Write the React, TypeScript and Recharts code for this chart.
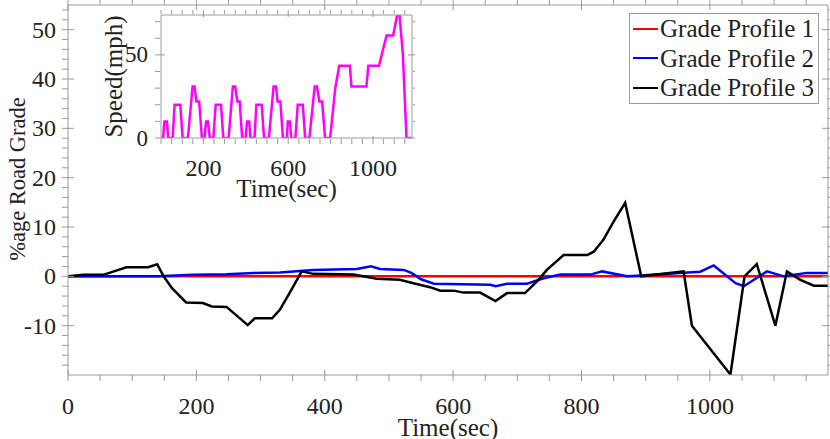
import { LineChart, Line, XAxis, YAxis, Legend, Label } from "recharts";

const AXIS = "#9a9a9a";
const INK = "#222222";
const FONT = "'Liberation Serif', 'Times New Roman', serif";

const X_MAX = 1184;
const MAIN_X_LABELS = [0, 200, 400, 600, 800, 1000];
const MAIN_Y_LABELS = [-10, 0, 10, 20, 30, 40, 50];
const INSET_X_LABELS = [200, 600, 1000];
const INSET_Y_LABELS = [0, 50];

const range = (a: number, b: number, s: number) => {
  const out: number[] = [];
  for (let v = a; v <= b; v += s) out.push(v);
  return out;
};
const MAIN_X_TICKS = range(0, 1150, 50);
const MAIN_Y_TICKS = range(-18, 54, 2);
const INSET_X_TICKS = range(0, 1150, 50);
const INSET_Y_TICKS = range(0, 70, 10);

// grade profiles (time in sec, %age grade)
const P1_T = [0, X_MAX];
const P1_G = [0, 0];

const P2_T = [0, 140, 195, 247, 290, 330, 351, 382, 450, 472, 486, 523, 535, 550, 570, 658, 666, 684, 715, 741, 767, 814, 832, 871, 886, 959, 985, 1006, 1040, 1053, 1089, 1115, 1151, 1184];
const P2_G = [0, 0, 0.3, 0.4, 0.7, 0.8, 1.0, 1.3, 1.5, 2.05, 1.5, 1.3, 0.7, -0.6, -1.5, -1.7, -2.0, -1.5, -1.5, -0.4, 0.35, 0.35, 1.0, 0, 0.1, 0.75, 0.95, 2.2, -1.4, -2.0, 1.0, 0, 0.7, 0.7];

const P3_T = [0, 24, 55, 91, 125, 139, 149, 162, 184, 210, 224, 247, 280, 291, 318, 330, 346, 364, 382, 445, 481, 517, 538, 564, 580, 601, 616, 642, 666, 684, 712, 731, 746, 772, 809, 819, 834, 850, 868, 893, 959, 972, 1032, 1054, 1073, 1102, 1120, 1141, 1162, 1184];
const P3_G = [0, 0.3, 0.3, 1.85, 1.85, 2.45, 0, -2.4, -5.3, -5.4, -6.1, -6.2, -9.9, -8.5, -8.5, -6.8, -3.2, 1.0, 0.5, 0.35, -0.5, -0.7, -1.4, -2.2, -2.9, -2.9, -3.3, -3.3, -5.0, -3.4, -3.4, -1.0, 1.3, 4.3, 4.3, 5.0, 7.4, 11.1, 14.9, 0, 1.0, -10, -19.9, 0, 2.5, -10, 1.0, -0.7, -1.9, -1.9];

// inset drive cycle speed (mph)
const SPD_T = [0, 10, 16, 28, 34, 55, 64, 91, 102, 127, 149, 158, 167, 180, 193, 205, 213, 222, 230, 247, 258, 283, 294, 319, 339, 350, 360, 371, 383, 399, 406, 416, 422, 441, 450, 475, 486, 509, 531, 542, 550, 563, 575, 594, 598, 608, 614, 634, 645, 669, 680, 700, 725, 736, 747, 760, 774, 798, 822, 841, 891, 898, 969, 978, 1028, 1064, 1095, 1114, 1125, 1141, 1158, 1184];
const SPD_V = [0, 0, 10, 10, 0, 0, 20, 20, 0, 0, 31, 31, 22, 22, 0, 0, 10, 10, 0, 0, 20, 20, 0, 0, 31, 31, 22, 22, 0, 0, 10, 10, 0, 0, 20, 20, 0, 0, 31, 31, 22, 22, 0, 0, 10, 10, 0, 0, 20, 20, 0, 0, 31, 31, 22, 22, 0, 0, 30, 43.5, 43.5, 31, 31, 43.5, 43.5, 61.6, 61.6, 74, 74, 50, 0, 0];

const zip = (ts: number[], vs: number[]) => ts.map((t, i) => ({ t, v: vs[i] }));
const p1 = zip(P1_T, P1_G);
const p2 = zip(P2_T, P2_G);
const p3 = zip(P3_T, P3_G);
const speed = zip(SPD_T, SPD_V);

type Side = "bottom" | "top" | "left" | "right";

// ticks point inward (MATLAB style); labels only on major ticks
const makeTick = (side: Side, labels: number[], major: number, minor: number, labelOff: number, fontSize: number) =>
  (props: any) => {
    const { x, y, payload } = props;
    const v = payload.value;
    const isMajor = labels.includes(v);
    const len = isMajor ? major : minor;
    const showLabel = isMajor && (side === "bottom" || side === "left");
    let line;
    if (side === "bottom") line = <line x1={x} x2={x} y1={y} y2={y - len} stroke={AXIS} />;
    else if (side === "top") line = <line x1={x} x2={x} y1={y} y2={y + len} stroke={AXIS} />;
    else if (side === "left") line = <line x1={x} x2={x + len} y1={y} y2={y} stroke={AXIS} />;
    else line = <line x1={x} x2={x - len} y1={y} y2={y} stroke={AXIS} />;
    return (
      <g>
        {line}
        {showLabel && side === "bottom" && (
          <text x={x} y={y + labelOff} textAnchor="middle" dominantBaseline="central" fontFamily={FONT} fontSize={fontSize} fill={INK}>
            {v}
          </text>
        )}
        {showLabel && side === "left" && (
          <text x={x - labelOff} y={y} textAnchor="end" dominantBaseline="central" fontFamily={FONT} fontSize={fontSize} fill={INK}>
            {v}
          </text>
        )}
      </g>
    );
  };

const xTitle = (text: string, off: number, size: number) => (props: any) => {
  const vb = props.viewBox;
  return (
    <text x={vb.x + vb.width / 2} y={vb.y + off} textAnchor="middle" dominantBaseline="central" fontFamily={FONT} fontSize={size} fill={INK}>
      {text}
    </text>
  );
};

const yTitle = (text: string, cx: number, dy: number, size: number) => (props: any) => {
  const vb = props.viewBox;
  const cy = vb.y + vb.height / 2 + dy;
  return (
    <text x={vb.x + cx} y={cy} transform={`rotate(-90 ${vb.x + cx} ${cy})`} textAnchor="middle" dominantBaseline="central" fontFamily={FONT} fontSize={size} fill={INK}>
      {text}
    </text>
  );
};

function LegendBox({ payload }: any) {
  return (
    <div style={{ border: `1px solid ${AXIS}`, background: "#fff", padding: "0 4px 0 3px", fontFamily: FONT, fontSize: 25, color: INK, whiteSpace: "nowrap" }}>
      {(payload || []).map((p: any) => (
        <div key={p.value} style={{ display: "flex", alignItems: "center", height: 29.5 }}>
          <span style={{ width: 25, height: 0, borderTop: `2.5px solid ${p.color}`, marginRight: 2 }} />
          <span style={{ lineHeight: "29px" }}>{p.value}</span>
        </div>
      ))}
    </div>
  );
}

export default function App() {
  return (
    <div style={{ position: "absolute", left: 0, top: 0, width: 830, height: 439, background: "#fff" }}>
      <LineChart width={830} height={439} margin={{ top: 0, right: 0, bottom: 0, left: 0 }}>
        <XAxis xAxisId="b" type="number" dataKey="t" domain={[0, X_MAX]} allowDataOverflow ticks={MAIN_X_TICKS} interval={0}
          tickLine={false} tickMargin={0} height={64} stroke={AXIS} tick={makeTick("bottom", MAIN_X_LABELS, 11, 6, 25, 24)}>
          <Label content={xTitle("Time(sec)", 52, 25)} />
        </XAxis>
        <XAxis xAxisId="t" orientation="top" type="number" dataKey="t" domain={[0, X_MAX]} allowDataOverflow ticks={MAIN_X_TICKS} interval={0}
          tickLine={false} tickMargin={0} height={5} stroke={AXIS} tick={makeTick("top", MAIN_X_LABELS, 11, 6, 0, 24)} />
        <YAxis yAxisId="l" type="number" domain={[-20, 55]} allowDataOverflow ticks={MAIN_Y_TICKS} interval={0}
          tickLine={false} tickMargin={0} width={68} stroke={AXIS} tick={makeTick("left", MAIN_Y_LABELS, 12, 6, 6, 24)}>
          <Label content={yTitle("%age Road Grade", 17, -11, 22.5)} />
        </YAxis>
        <YAxis yAxisId="r" orientation="right" type="number" domain={[-20, 55]} allowDataOverflow ticks={MAIN_Y_TICKS} interval={0}
          tickLine={false} tickMargin={0} width={2} stroke={AXIS} tick={makeTick("right", MAIN_Y_LABELS, 12, 6, 0, 24)} />
        <Line xAxisId="b" yAxisId="l" data={p1} dataKey="v" name="Grade Profile 1" stroke="#ff0000" strokeWidth={2.5} dot={false} type="linear" isAnimationActive={false} />
        <Line xAxisId="b" yAxisId="l" data={p2} dataKey="v" name="Grade Profile 2" stroke="#0000ff" strokeWidth={2.5} dot={false} type="linear" isAnimationActive={false} />
        <Line xAxisId="b" yAxisId="l" data={p3} dataKey="v" name="Grade Profile 3" stroke="#000000" strokeWidth={2.5} dot={false} type="linear" isAnimationActive={false} />
        <Legend layout="horizontal" verticalAlign="middle" align="center" content={LegendBox}
          wrapperStyle={{ top: 13, left: 629, width: "auto", height: "auto" }} />
      </LineChart>

      <div style={{ position: "absolute", left: 95, top: 10 }}>
        <LineChart width={320} height={200} margin={{ top: 0, right: 0, bottom: 0, left: 0 }}>
          <XAxis xAxisId="b" type="number" dataKey="t" domain={[0, X_MAX]} allowDataOverflow ticks={INSET_X_TICKS} interval={0}
            tickLine={false} tickMargin={0} height={72} stroke={AXIS} tick={makeTick("bottom", INSET_X_LABELS, 8, 5, 24, 24)}>
            <Label content={xTitle("Time(sec)", 50, 25)} />
          </XAxis>
          <XAxis xAxisId="t" orientation="top" type="number" dataKey="t" domain={[0, X_MAX]} allowDataOverflow ticks={INSET_X_TICKS} interval={0}
            tickLine={false} tickMargin={0} height={5} stroke={AXIS} tick={makeTick("top", INSET_X_LABELS, 8, 5, 0, 24)} />
          <YAxis yAxisId="l" type="number" domain={[0, 74]} allowDataOverflow ticks={INSET_Y_TICKS} interval={0}
            tickLine={false} tickMargin={0} width={66} stroke={AXIS} tick={makeTick("left", INSET_Y_LABELS, 10, 5, 7, 23)}>
            <Label content={yTitle("Speed(mph)", 18, 0, 25)} />
          </YAxis>
          <YAxis yAxisId="r" orientation="right" type="number" domain={[0, 74]} allowDataOverflow ticks={INSET_Y_TICKS} interval={0}
            tickLine={false} tickMargin={0} width={3} stroke={AXIS} tick={makeTick("right", INSET_Y_LABELS, 10, 5, 0, 24)} />
          <Line xAxisId="b" yAxisId="l" data={speed} dataKey="v" stroke="#ff00ff" strokeWidth={2.5} dot={false} type="linear" isAnimationActive={false} />
        </LineChart>
      </div>
    </div>
  );
}
